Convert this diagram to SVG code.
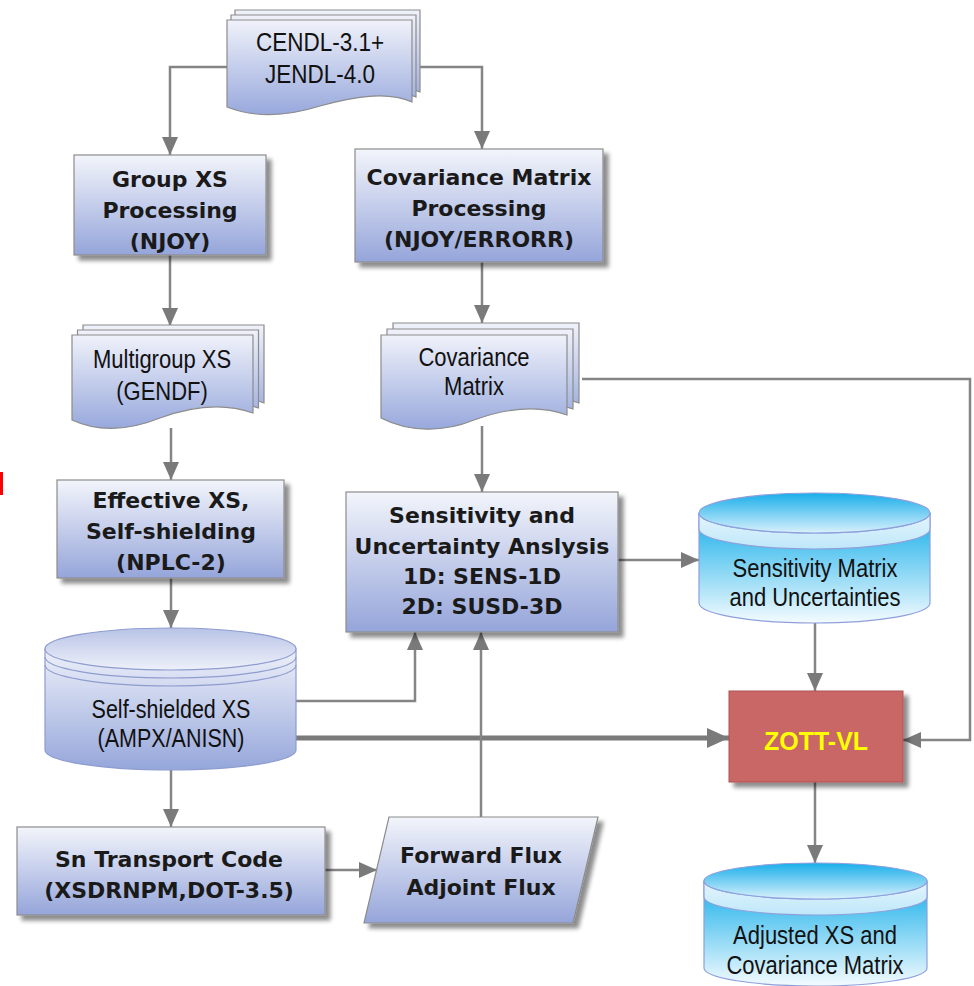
<svg xmlns="http://www.w3.org/2000/svg" width="974" height="986" viewBox="0 0 974 986">
<defs>
  <linearGradient id="gBox" x1="0" y1="0" x2="0" y2="1">
    <stop offset="0" stop-color="#f3f5fb"/>
    <stop offset="1" stop-color="#95a5da"/>
  </linearGradient>
  <linearGradient id="gDoc" x1="0" y1="0" x2="0" y2="1">
    <stop offset="0" stop-color="#f0f2fa"/>
    <stop offset="1" stop-color="#97a8dc"/>
  </linearGradient>
  <linearGradient id="gCylTop" x1="0" y1="0" x2="0" y2="1">
    <stop offset="0" stop-color="#b8c3e6"/>
    <stop offset="1" stop-color="#eef1fa"/>
  </linearGradient>
  <linearGradient id="gCylBody" x1="0" y1="0" x2="0" y2="1">
    <stop offset="0" stop-color="#eef1fa"/>
    <stop offset="1" stop-color="#95a6da"/>
  </linearGradient>
  <linearGradient id="gBlueTop" x1="0" y1="0" x2="0" y2="1">
    <stop offset="0" stop-color="#18aeea"/>
    <stop offset="1" stop-color="#d9f1fc"/>
  </linearGradient>
  <linearGradient id="gBlueBand" x1="0" y1="0" x2="0" y2="1">
    <stop offset="0" stop-color="#e4f5fd"/>
    <stop offset="1" stop-color="#bfe7f9"/>
  </linearGradient>
  <linearGradient id="gBlueBody" x1="0" y1="0" x2="0" y2="1">
    <stop offset="0" stop-color="#14aee9"/>
    <stop offset="1" stop-color="#f4fbff"/>
  </linearGradient>
  <filter id="sh" x="-10%" y="-10%" width="130%" height="130%">
    <feDropShadow dx="5" dy="5" stdDeviation="2" flood-color="#000" flood-opacity="0.45"/>
  </filter>
  <marker id="ah" viewBox="0 0 18 16" refX="18" refY="8" markerWidth="18" markerHeight="16" markerUnits="userSpaceOnUse" orient="auto">
    <path d="M0,0 L18,8 L0,16 Z" fill="#7a7a7a"/>
  </marker>
  <marker id="ahb" viewBox="0 0 22 20" refX="22" refY="10" markerWidth="22" markerHeight="20" markerUnits="userSpaceOnUse" orient="auto">
    <path d="M0,0 L22,10 L0,20 Z" fill="#7a7a7a"/>
  </marker>
  <style>
    .box { fill: url(#gBox); stroke: #8c8c8c; stroke-width: 1.2; filter: url(#sh); }
    .doc { fill: url(#gDoc); stroke: #8c8c8c; stroke-width: 1.2; }
    .bt { font-family: "DejaVu Sans", Verdana, sans-serif; font-weight: bold; font-size: 22px; fill: #1a1a1a; text-anchor: middle; }
    .nt { font-family: "Liberation Sans", Arial, sans-serif; font-size: 25px; fill: #111111; text-anchor: middle; }
    .cl { fill: none; stroke: #858585; stroke-width: 2.5; marker-end: url(#ah); }
    .clb { fill: none; stroke: #7a7a7a; stroke-width: 5; marker-end: url(#ahb); }
    .cyl { stroke: #8e9ccf; stroke-width: 1.2; }
    .bcyl { stroke: #8f9fdc; stroke-width: 1.2; }
  </style>
</defs>
<rect width="974" height="986" fill="#ffffff"/>
<rect x="0" y="472" width="3" height="23" fill="#ff0000"/>

<g id="connectors">
  <path class="cl" d="M227,67 H170 V155"/>
  <path class="cl" d="M412,67 H482 V149"/>
  <path class="cl" d="M170,255 V326"/>
  <path class="cl" d="M482,262 V323"/>
  <path class="cl" d="M171,428 V480"/>
  <path class="cl" d="M482,426 V492"/>
  <path class="cl" d="M582,379 H970 V740 H903"/>
  <path class="cl" d="M171,578 V628"/>
  <path class="cl" d="M296,701 H415 V632"/>
  <path class="clb" d="M296,738 H729"/>
  <path class="cl" d="M618,560 H699"/>
  <path class="cl" d="M815,623 V691"/>
  <path class="cl" d="M815,782 V863"/>
  <path class="cl" d="M171,770 V827"/>
  <path class="cl" d="M325,870 H377"/>
  <path class="cl" d="M481,817 V632"/>
</g>

<g id="cendl">
  <path class="doc" transform="translate(8,-10)" d="M227,20 H412 V102 C390,92 360,95 320,106 C285,117 255,118 227,107 Z"/>
  <path class="doc" transform="translate(4,-5)" d="M227,20 H412 V102 C390,92 360,95 320,106 C285,117 255,118 227,107 Z"/>
  <path class="doc" d="M227,20 H412 V102 C390,92 360,95 320,106 C285,117 255,118 227,107 Z"/>
  <text class="nt" transform="translate(320,51) scale(0.9,1)">CENDL-3.1+</text>
  <text class="nt" transform="translate(320,83) scale(0.9,1)">JENDL-4.0</text>
</g>

<g id="group-xs">
  <rect class="box" x="74" y="155" width="192" height="100"/>
  <text class="bt" x="170" y="187">Group XS</text>
  <text class="bt" x="170" y="218">Processing</text>
  <text class="bt" x="170" y="249">(NJOY)</text>
</g>

<g id="cov-proc">
  <rect class="box" x="355" y="149" width="248" height="113"/>
  <text class="bt" x="479" y="185">Covariance Matrix</text>
  <text class="bt" x="479" y="216">Processing</text>
  <text class="bt" x="479" y="247">(NJOY/ERRORR)</text>
</g>

<g id="multigroup">
  <path class="doc" transform="translate(11,-10)" d="M72,335 H253 V413 C225,403 195,405 160,418 C130,430 100,433 72,420 Z"/>
  <path class="doc" transform="translate(5.5,-5)" d="M72,335 H253 V413 C225,403 195,405 160,418 C130,430 100,433 72,420 Z"/>
  <path class="doc" d="M72,335 H253 V413 C225,403 195,405 160,418 C130,430 100,433 72,420 Z"/>
  <text class="nt" transform="translate(162,368) scale(0.88,1)">Multigroup XS</text>
  <text class="nt" transform="translate(162,400) scale(0.88,1)">(GENDF)</text>
</g>

<g id="cov-matrix">
  <path class="doc" transform="translate(12,-12)" d="M381,335 H567 V415 C540,405 510,407 474,420 C445,432 410,433 381,418 Z"/>
  <path class="doc" transform="translate(6,-6)" d="M381,335 H567 V415 C540,405 510,407 474,420 C445,432 410,433 381,418 Z"/>
  <path class="doc" d="M381,335 H567 V415 C540,405 510,407 474,420 C445,432 410,433 381,418 Z"/>
  <text class="nt" transform="translate(474,366) scale(0.88,1)">Covariance</text>
  <text class="nt" transform="translate(474,395) scale(0.88,1)">Matrix</text>
</g>

<g id="effective-xs">
  <rect class="box" x="57" y="480" width="227" height="98"/>
  <text class="bt" x="171" y="508">Effective XS,</text>
  <text class="bt" x="171" y="539">Self-shielding</text>
  <text class="bt" x="171" y="570">(NPLC-2)</text>
</g>

<g id="sensitivity">
  <rect class="box" x="346" y="492" width="272" height="140"/>
  <text class="bt" x="482" y="523">Sensitivity and</text>
  <text class="bt" x="482" y="554">Uncertainty Anslysis</text>
  <text class="bt" x="482" y="584">1D: SENS-1D</text>
  <text class="bt" x="482" y="614">2D: SUSD-3D</text>
</g>

<g id="sens-matrix">
  <path class="bcyl" fill="url(#gBlueBody)" d="M699,513 L699,603 A115.5,20 0 0 0 930,603 L930,513 Z"/>
  <path class="bcyl" fill="url(#gBlueBand)" d="M699,513 A115.5,20 0 0 0 930,513 L930,529 A115.5,20 0 0 1 699,529 Z"/>
  <ellipse class="bcyl" fill="url(#gBlueTop)" cx="814.5" cy="513" rx="115.5" ry="20"/>
  <text class="nt" transform="translate(815,577) scale(0.88,1)">Sensitivity Matrix</text>
  <text class="nt" transform="translate(815,606) scale(0.88,1)">and Uncertainties</text>
</g>

<g id="self-shielded">
  <path class="cyl" fill="url(#gCylBody)" d="M45,649 L45,750 A125.5,20 0 0 0 296,750 L296,649 Z"/>
  <path class="cyl" fill="none" d="M45,657 A125.5,21 0 0 0 296,657"/>
  <path class="cyl" fill="none" d="M45,665 A125.5,21 0 0 0 296,665"/>
  <ellipse class="cyl" fill="url(#gCylTop)" cx="170.5" cy="649" rx="125.5" ry="21"/>
  <text class="nt" transform="translate(171,718) scale(0.86,1)">Self-shielded XS</text>
  <text class="nt" transform="translate(171,747) scale(0.86,1)">(AMPX/ANISN)</text>
</g>

<g id="zott">
  <rect x="729" y="691" width="174" height="91" fill="#c96666" stroke="#b05050" stroke-width="1" filter="url(#sh)"/>
  <text x="816" y="750" font-family="Liberation Sans, Arial, sans-serif" font-weight="bold" font-size="25" fill="#ffff00" text-anchor="middle">ZOTT-VL</text>
</g>

<g id="sn-transport">
  <rect class="box" x="17" y="827" width="308" height="88"/>
  <text class="bt" x="169" y="867">Sn Transport Code</text>
  <text class="bt" x="169" y="898">(XSDRNPM,DOT-3.5)</text>
</g>

<g id="flux">
  <path class="box" d="M389,817 L598,817 L573,923 L364,923 Z"/>
  <text class="bt" x="481" y="863">Forward Flux</text>
  <text class="bt" x="481" y="895">Adjoint Flux</text>
</g>

<g id="adjusted">
  <path class="bcyl" fill="url(#gBlueBody)" d="M704,881 L704,968 A111.5,18 0 0 0 927,968 L927,881 Z"/>
  <path class="bcyl" fill="url(#gBlueBand)" d="M704,881 A111.5,18 0 0 0 927,881 L927,897 A111.5,18 0 0 1 704,897 Z"/>
  <ellipse class="bcyl" fill="url(#gBlueTop)" cx="815.5" cy="881" rx="111.5" ry="18"/>
  <text class="nt" transform="translate(815,944) scale(0.88,1)">Adjusted XS and</text>
  <text class="nt" transform="translate(815,974) scale(0.88,1)">Covariance Matrix</text>
</g>
</svg>
